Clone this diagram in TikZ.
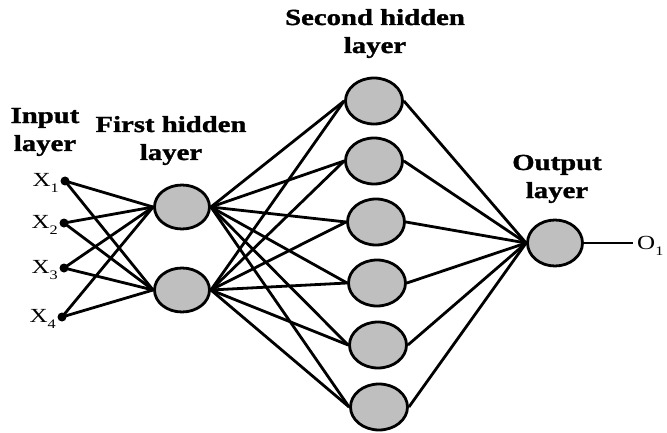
\documentclass[tikz,border=0pt]{standalone}
\usepackage{fontspec}
\setmainfont{Liberation Serif}[FakeStretch=1.25, BoldFeatures={FakeBold=1.3}]
\usetikzlibrary{shapes.geometric}

% Index set low beside a letter.
\newcommand{\lowidx}[1]{\raisebox{-6pt}{\fontsize{13}{13}\selectfont #1}}

\begin{document}
\begin{tikzpicture}[%
        x = 1pt, y = -1pt,
        neuron/.style = {%
            ellipse, draw, line width = 2.8pt,
            fill = black!25,
            minimum width = 55pt, minimum height = 44pt,
            inner sep = 0pt
        },
        dot/.style = {%
            circle, fill = black, inner sep = 0pt,
            minimum size = 9pt
        },
        link/.style = {line width = 2.8pt},
        title/.style = {%
            align = center, anchor = base, inner sep = 0pt,
            font = \fontsize{23}{28}\selectfont\bfseries
        },
        xlabel/.style = {%
            anchor = base east, inner sep = 0pt,
            font = \fontsize{20}{22}\selectfont
        }
    ]

        \useasboundingbox (0,0) rectangle (667,433);

        % Input points with their labels.
        \foreach \i/\x/\y in {1/65/181, 2/64/223, 3/64/268, 4/62/317}{%
            \node[dot] (in\i) at (\x,\y) {};
            \node[xlabel] (lx\i) at (\x-6,\y+5) {X\lowidx{\i}};
        }

        % First hidden layer.
        \node[neuron] (h1) at (182,207) {};
        \node[neuron] (h2) at (182,290) {};

        % Second hidden layer (they drift a bit to the right going down).
        \foreach \k/\x/\y in {1/374/101, 2/374/161, 3/376/222,
                              4/377/283, 5/378/345, 6/379/407}{%
            \node[neuron, minimum width = 57pt, minimum height = 46pt]
                (s\k) at (\x,\y) {};
        }

        % Output neuron and its outgoing line.
        \node[neuron, minimum height = 46pt] (out) at (555,243) {};
        \coordinate (oend) at (633,243);
        \node[xlabel, anchor = base west] (lo) at (637,249) {O\lowidx{1}};

        % Connections, layer by layer.
        \foreach \i in {1,...,4}{%
            \foreach \j in {1,2}{%
                \draw[link] (in\i.center) -- (h\j.west);
            }
        }
        \foreach \j in {1,2}{%
            \foreach \k in {1,...,6}{%
                \draw[link] (h\j.east) -- (s\k.west);
            }
        }
        \foreach \k in {1,...,6}{%
            \draw[link] (s\k.east) -- (out.west);
        }
        \draw[link] (out.east) -- (oend);

        % Layer titles (anchored at the baseline of the last line).
        \node[title] (tin) at (45,151) {Input\\layer};
        \node[title] (tfirst) at (171,160) {First hidden\\layer};
        \node[title] (tsecond) at (375,53) {Second hidden\\layer};
        \node[title] (tout) at (557,198) {Output\\layer};
    \end{tikzpicture}
\end{document}
